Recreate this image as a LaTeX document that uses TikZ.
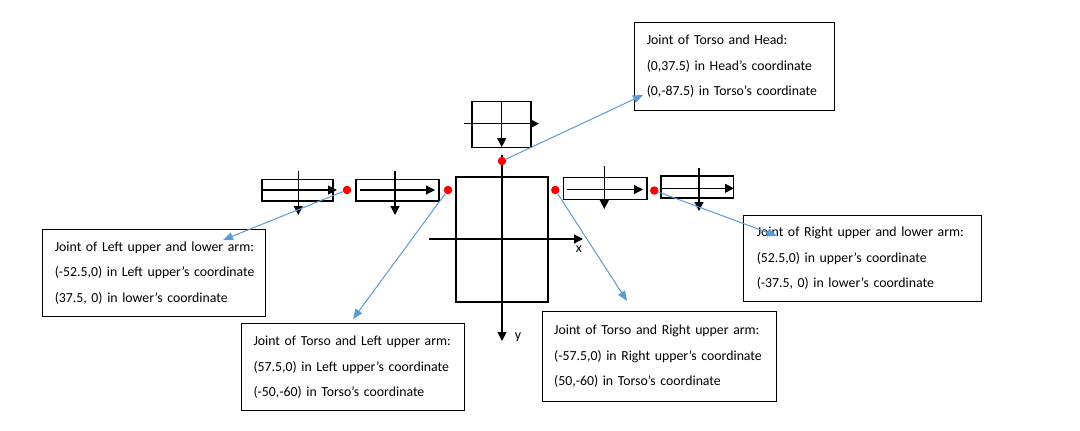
\documentclass[tikz,border=0pt]{standalone}
\usepackage{fontspec}
\setmainfont{Carlito}
\usetikzlibrary{arrows.meta,calc}
\definecolor{leadblue}{HTML}{5B9BD5}
\hfuzz=50pt
\tikzset{
  partbox/.style={draw=black,line width=1.6pt,rectangle,inner sep=0pt},
  axisarrow/.style={line width=1.2pt,-{Triangle[length=9pt,width=9pt]}},
  joint/.style={circle,fill=red,draw=none,inner sep=0pt,minimum size=8.5pt},
  lead/.style={leadblue,line width=1pt,-{Triangle[length=10pt,width=8pt]}},
  note/.style={draw=black,line width=1pt,rectangle,anchor=north west,align=left,
    inner xsep=12pt,inner ysep=0pt,font=\fontsize{13.8}{25.5}\selectfont},
  axlabel/.style={font=\fontsize{14}{16}\selectfont,inner sep=0pt}
}
\begin{document}
\begin{tikzpicture}[x=1pt,y=-1pt]
\useasboundingbox (0,0) rectangle (1080,431);
% head
\node[partbox,minimum width=59pt,minimum height=46pt] (head) at (501.3,124.5) {};
\draw[axisarrow] (464,123.7) -- (539,123.7);
\draw[axisarrow] (501.7,101.7) -- (501.7,147);
% torso
\node[partbox,minimum width=92pt,minimum height=125pt] (torso) at (501.7,239.3) {};
\draw[axisarrow] (429,239) -- (583,239);
\draw[axisarrow] (502,155) -- (502,341);
\node[axlabel] (xl) at (579,249) {x};
\node[axlabel] (yl) at (518,337) {y};
% left lower arm
\node[partbox,minimum width=71pt,minimum height=21.7pt] (ll) at (297.2,190.2) {};
\draw[axisarrow] (262,190) -- (337,190);
\draw[axisarrow] (298.3,171) -- (298.3,215);
% left upper arm
\node[partbox,minimum width=83pt,minimum height=21.7pt] (lu) at (397.2,190.2) {};
\draw[axisarrow] (360,190) -- (435,190);
\draw[axisarrow] (395,171) -- (395,215);
% right upper arm
\node[partbox,minimum width=83.4pt,minimum height=21.7pt] (ru) at (605,188.5) {};
\draw[axisarrow] (567,189.5) -- (643,189.5);
\draw[axisarrow] (604.3,166) -- (604.3,209);
% right lower arm
\node[partbox,minimum width=72.3pt,minimum height=21.7pt] (rl) at (697.2,187) {};
\draw[axisarrow] (661,188.3) -- (734,188.3);
\draw[axisarrow] (699,168) -- (699,211);
% joints
\node[joint] (jh) at (502,161) {};
\node[joint] (jll) at (347,190) {};
\node[joint] (jlu) at (448,190) {};
\node[joint] (jru) at (555.3,190) {};
\node[joint] (jrl) at (654.3,190.5) {};
% notes
\node[note,text width=176pt,minimum height=88pt] (nh) at (634.3,21.7)
  {\mbox{Joint of Torso and Head:}\\\mbox{(0,37.5) in Head’s coordinate}\\\mbox{(0,-87.5) in Torso’s coordinate}};
\node[note,text width=199pt,minimum height=87pt] (nll) at (42.3,229)
  {\mbox{Joint of Left upper and lower arm:}\\\mbox{(-52.5,0) in Left upper’s coordinate}\\\mbox{(37.5, 0) in lower’s coordinate}};
\node[note,inner xsep=13pt,text width=212pt,minimum height=86pt] (nrl) at (743.3,215)
  {\mbox{Joint of Right upper and lower arm:}\\\mbox{(52.5,0) in upper’s coordinate}\\\mbox{(-37.5, 0) in lower’s coordinate}};
\node[note,text width=199pt,minimum height=87pt] (nlu) at (241,323.3)
  {\mbox{Joint of Torso and Left upper arm:}\\\mbox{(57.5,0) in Left upper’s coordinate}\\\mbox{(-50,-60) in Torso’s coordinate}};
\node[note,text width=210pt,minimum height=90pt] (nru) at (541.7,310.7)
  {\mbox{Joint of Torso and Right upper arm:}\\\mbox{(-57.5,0) in Right upper’s coordinate}\\\mbox{(50,-60) in Torso’s coordinate}};
% leader arrows
\coordinate (th) at (643,95);
\coordinate (tll) at (223,240);
\coordinate (tlu) at (353,319);
\coordinate (tru) at (627,301);
\coordinate (trl) at (777,236);
\draw[lead] (jh) -- (th);
\draw[lead] (jll) -- (tll);
\draw[lead] (jlu) -- (tlu);
\draw[lead] (jru) -- (tru);
\draw[lead] (jrl) -- (trl);
\end{tikzpicture}
\end{document}
